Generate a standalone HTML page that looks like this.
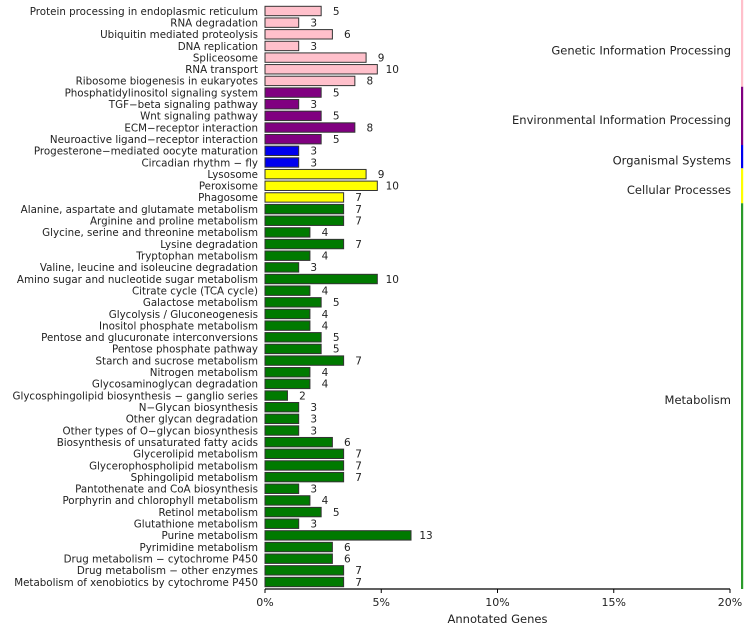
<!DOCTYPE html>
<html><head><meta charset="utf-8"><style>
body{margin:0;background:#fff}
svg text{font-family:"DejaVu Sans","Liberation Sans",sans-serif;fill:#222}
</style></head><body>
<svg id="chart" width="750" height="626" xmlns="http://www.w3.org/2000/svg"></svg>
<script>
const categories=["Protein processing in endoplasmic reticulum","RNA degradation","Ubiquitin mediated proteolysis","DNA replication","Spliceosome","RNA transport","Ribosome biogenesis in eukaryotes","Phosphatidylinositol signaling system","TGF−beta signaling pathway","Wnt signaling pathway","ECM−receptor interaction","Neuroactive ligand−receptor interaction","Progesterone−mediated oocyte maturation","Circadian rhythm − fly","Lysosome","Peroxisome","Phagosome","Alanine, aspartate and glutamate metabolism","Arginine and proline metabolism","Glycine, serine and threonine metabolism","Lysine degradation","Tryptophan metabolism","Valine, leucine and isoleucine degradation","Amino sugar and nucleotide sugar metabolism","Citrate cycle (TCA cycle)","Galactose metabolism","Glycolysis / Gluconeogenesis","Inositol phosphate metabolism","Pentose and glucuronate interconversions","Pentose phosphate pathway","Starch and sucrose metabolism","Nitrogen metabolism","Glycosaminoglycan degradation","Glycosphingolipid biosynthesis − ganglio series","N−Glycan biosynthesis","Other glycan degradation","Other types of O−glycan biosynthesis","Biosynthesis of unsaturated fatty acids","Glycerolipid metabolism","Glycerophospholipid metabolism","Sphingolipid metabolism","Pantothenate and CoA biosynthesis","Porphyrin and chlorophyll metabolism","Retinol metabolism","Glutathione metabolism","Purine metabolism","Pyrimidine metabolism","Drug metabolism − cytochrome P450","Drug metabolism − other enzymes","Metabolism of xenobiotics by cytochrome P450"];
const counts=[5,3,6,3,9,10,8,5,3,5,8,5,3,3,9,10,7,7,7,4,7,4,3,10,4,5,4,4,5,5,7,4,4,2,3,3,3,6,7,7,7,3,4,5,3,13,6,6,7,7];
const groupNames=["Genetic Information Processing","Environmental Information Processing","Organismal Systems","Cellular Processes","Metabolism"];
const groupSizes=[7,5,2,3,33];
const groupColors=["#ffc0cb","#800080","#0000ee","#ffff00","#007a00"];
const ticks=[0,5,10,15,20];
const totalGenes=207;

const svg=document.getElementById('chart');
const NS='http://www.w3.org/2000/svg';
const x0=265,x1=730,pctMax=20;
const xs=p=>x0+(x1-x0)*p/pctMax;
const N=categories.length;
const yTop=11,pitch=(582-11)/(N-1);
const yc=i=>yTop+i*pitch;
function mk(t,a,parent){const e=document.createElementNS(NS,t);for(const k in a)e.setAttribute(k,a[k]);(parent||svg).appendChild(e);return e;}

let idx=0;
groupSizes.forEach((n,g)=>{
  for(let j=0;j<n;j++,idx++){
    const i=idx,v=counts[i],w=xs(v/totalGenes*100)-x0;
    const r=mk('rect',{x:x0,y:yc(i)-4.7,width:w,height:9.4,fill:groupColors[g],stroke:'#333','stroke-width':1});
    
    
    const lt=mk('text',{x:x0-7,y:yc(i)+3.8,'text-anchor':'end','font-size':10.3});
    lt.textContent=categories[i];
    
    
    const vt=mk('text',{x:x0+w+15,y:yc(i)+3.8,'text-anchor':'middle','font-size':10.5});
    vt.textContent=v;
    
    
  }
});
let start=0;
groupSizes.forEach((n,g)=>{
  const s0=start===0?0:yc(start)-pitch/2, s1=g===4?589:yc(start+n)-pitch/2;
  const st=mk('rect',{x:741,y:s0,width:2.2,height:s1-s0,fill:groupColors[g]==='#007a00'?'#2a9a2a':groupColors[g]});
  
  
  const mid=(s0+s1)/2+(g===0?7:4);
  const t=mk('text',{x:731,y:mid+4,'text-anchor':'end','font-size':11.5});
  t.textContent=groupNames[g];
  
  
  start+=n;
});
const ax=mk('line',{x1:x0,y1:589,x2:x1,y2:589,stroke:'#000','stroke-width':1.3});


ticks.forEach(t=>{
  const l=mk('line',{x1:xs(t),y1:589,x2:xs(t),y2:593,stroke:'#000'});
  
  
  const tt=mk('text',{x:xs(t),y:606,'text-anchor':'middle','font-size':11});
  tt.textContent=t+'%';
  
  
});
const xt=mk('text',{x:(x0+x1)/2,y:623,'text-anchor':'middle','font-size':11.5});
xt.textContent='Annotated Genes';


</script>
</body></html>
